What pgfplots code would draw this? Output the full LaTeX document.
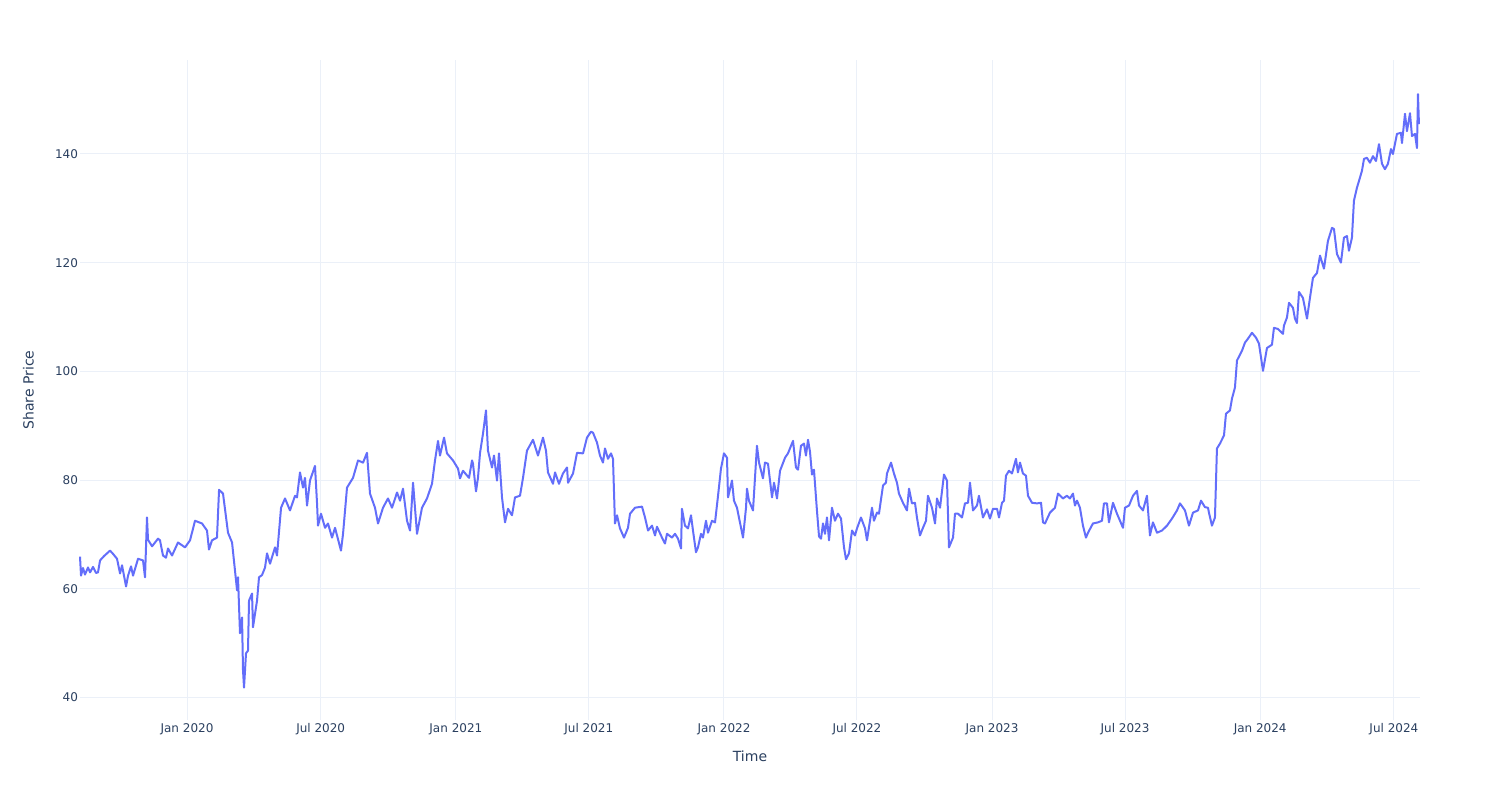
\documentclass[border=0pt]{standalone}
\usepackage{fontspec}
\setmainfont{DejaVu Sans}
\usepackage{pgfplots}
\pgfplotsset{compat=1.18}
\definecolor{plotline}{HTML}{636EFA}
\definecolor{gridc}{HTML}{EBF0F8}
\definecolor{textc}{HTML}{2A3F5F}
\begin{document}
\begin{tikzpicture}
\path[use as bounding box] (0,0) rectangle (1125bp,600bp);
\begin{axis}[
  at={(60bp,60bp)}, anchor=south west,
  scale only axis, width=1005bp, height=495bp,
  xmin=-145.7, xmax=1678.5, ymin=35.83, ymax=157.3,
  axis line style={draw=none},
  major tick length=0pt,
  grid=major,
  major grid style={gridc, line width=0.75bp},
  xtick={0,182,366,547,731,912,1096,1277,1461,1643},
  xticklabels={Jan 2020,Jul 2020,Jan 2021,Jul 2021,Jan 2022,Jul 2022,Jan 2023,Jul 2023,Jan 2024,Jul 2024},
  ytick={40,60,80,100,120,140},
  /pgf/number format/assume math mode=true,
  tick label style={font=\fontsize{9bp}{10bp}\selectfont, text=textc},
  xticklabel style={anchor=north, inner sep=0pt, yshift=-2.5bp},
  yticklabel style={anchor=east, inner sep=0pt, xshift=-1.3bp},
  xlabel={Time}, ylabel={Share Price},
  label style={font=\fontsize{10.5bp}{12bp}\selectfont, text=textc},
  xlabel style={at={(axis description cs:0.5,-0.047)}, anchor=north, inner sep=0pt},
  ylabel style={at={(axis description cs:-0.0343,0.5)}, rotate=0, anchor=south, inner sep=0pt},
  clip=false,
]
\addplot[plotline, line width=1.5bp, line join=round] coordinates {
(-145.7,65.9) (-144.3,62.4) (-141.6,63.8) (-138.9,62.6) (-134.8,63.9) (-132.0,63.0) (-128.0,64.0) (-123.9,62.9) (-121.2,63.0) (-118.4,65.2)
(-113.0,66.0) (-104.8,67.0) (-100.7,66.4) (-95.3,65.5) (-91.2,62.8) (-88.5,64.3) (-83.0,60.4) (-80.3,62.4) (-76.2,64.1) (-73.5,62.4)
(-66.7,65.5) (-59.9,65.2) (-57.2,62.1) (-54.5,73.1) (-53.1,69.0) (-47.6,67.8) (-39.5,69.2) (-36.8,68.9) (-32.7,66.1) (-28.6,65.7)
(-25.9,67.4) (-20.4,66.1) (-12.3,68.5) (-2.7,67.6) (4.1,68.9) (10.9,72.5) (20.4,72.0) (27.2,70.7) (29.9,67.2) (34.0,68.9)
(40.8,69.4) (43.6,78.2) (49.0,77.5) (55.8,70.3) (61.3,68.5) (68.1,59.7) (69.4,62.1) (72.1,51.8) (74.9,54.7) (76.2,45.0)
(77.6,41.8) (80.3,48.1) (83.0,48.6) (84.4,57.8) (88.5,59.1) (89.8,52.9) (95.3,57.8) (98.0,62.1) (102.1,62.5) (106.2,63.9)
(108.9,66.5) (113.0,64.6) (119.8,67.6) (122.5,66.1) (128.0,74.9) (133.4,76.6) (140.2,74.4) (147.0,77.1) (149.7,76.8) (153.8,81.4)
(157.9,78.6) (160.6,80.4) (163.4,75.3) (167.4,79.9) (174.2,82.6) (177.0,75.7) (178.3,71.6) (182.4,73.8) (187.9,71.2) (191.9,72.0)
(197.4,69.4) (201.5,71.2) (209.6,67.0) (212.4,70.1) (217.8,78.6) (226.0,80.4) (232.8,83.6) (239.6,83.2) (245.0,85.0) (249.1,77.5)
(255.9,74.9) (260.0,72.0) (266.8,74.9) (273.6,76.6) (279.1,74.9) (285.9,77.7) (290.0,76.2) (294.0,78.4) (299.5,72.5) (303.6,70.7)
(307.7,79.5) (313.1,70.1) (319.9,74.9) (326.7,76.6) (333.5,79.3) (337.6,83.6) (341.7,87.2) (344.4,84.5) (349.9,87.8) (353.9,84.9)
(362.1,83.6) (368.9,82.1) (371.6,80.3) (375.7,81.7) (383.9,80.4) (388.0,83.6) (389.3,83.0) (393.4,77.9) (396.1,80.4) (398.9,85.0)
(402.9,88.5) (407.0,92.8) (409.7,85.4) (415.2,82.3) (417.9,84.5) (422.0,79.9) (424.7,84.9) (428.8,76.8) (432.9,72.2) (437.0,74.7)
(442.4,73.5) (446.5,76.8) (453.3,77.1) (457.4,80.4) (462.8,85.4) (471.0,87.4) (477.8,84.5) (484.6,87.8) (488.7,85.4) (491.4,81.4)
(498.2,79.3) (501.0,81.4) (506.4,79.3) (511.8,81.2) (517.3,82.3) (518.7,79.5) (525.5,81.2) (530.9,85.0) (539.1,84.9) (544.5,87.8)
(550.0,88.9) (552.7,88.7) (558.1,86.9) (562.2,84.5) (566.3,83.2) (569.0,85.8) (573.1,83.9) (577.2,84.9) (579.9,83.9) (582.6,72.0)
(585.4,73.5) (589.4,71.1) (594.9,69.4) (600.3,71.2) (603.1,73.8) (609.9,74.9) (619.4,75.1) (623.5,73.1) (627.6,70.7) (633.0,71.6)
(637.1,69.8) (639.8,71.4) (646.6,69.4) (650.7,68.3) (653.4,70.1) (660.2,69.4) (664.3,70.1) (668.4,69.2) (672.5,67.4) (673.8,74.7)
(677.9,71.6) (682.0,71.1) (686.1,73.5) (688.8,70.7) (692.9,66.7) (695.6,67.6) (699.7,70.1) (702.4,69.4) (706.5,72.5) (709.2,70.3)
(714.7,72.5) (718.8,72.2) (722.9,77.1) (726.9,82.1) (731.0,84.9) (735.1,84.1) (736.5,76.8) (741.9,79.9) (744.6,76.2) (748.7,74.9)
(756.9,69.4) (761.0,74.9) (762.3,78.4) (765.0,76.2) (770.5,74.4) (773.2,80.4) (775.9,86.3) (778.7,83.2) (784.1,80.3) (786.8,83.2)
(790.9,83.0) (796.4,76.8) (799.1,79.5) (803.2,76.6) (807.3,81.7) (814.1,84.1) (818.1,84.9) (825.0,87.2) (829.0,82.3) (831.8,81.9)
(835.8,86.3) (839.9,86.7) (842.6,84.5) (845.4,87.4) (848.1,85.2) (850.8,81.0) (853.5,81.9) (857.6,74.3) (860.4,69.6) (863.1,69.2)
(865.8,72.0) (868.5,70.1) (871.2,73.1) (874.0,68.9) (878.0,74.9) (882.1,72.5) (886.2,73.8) (890.3,72.9) (894.4,67.6) (897.1,65.4)
(901.2,66.5) (905.3,70.7) (909.3,69.8) (912.1,71.1) (917.5,73.1) (923.0,71.1) (925.7,68.9) (932.5,74.9) (935.2,72.5) (939.3,74.0)
(942.0,73.8) (947.5,79.0) (951.5,79.5) (952.9,81.2) (958.4,83.2) (962.4,81.2) (966.5,79.5) (969.2,77.5) (974.7,75.8) (980.1,74.4)
(982.9,78.4) (986.9,75.7) (991.0,75.8) (993.7,73.1) (997.8,69.8) (1001.9,71.2) (1006.0,72.5) (1008.7,77.1) (1014.2,74.9) (1018.3,72.0)
(1021.0,76.6) (1025.1,74.9) (1030.5,81.0) (1034.6,79.9) (1037.3,67.6) (1042.8,69.4) (1045.5,73.8) (1049.6,73.8) (1055.0,73.1) (1059.1,75.7)
(1063.2,75.8) (1065.9,79.5) (1070.0,74.4) (1075.4,75.3) (1078.1,77.1) (1083.6,73.1) (1089.0,74.6) (1093.1,72.9) (1097.2,74.7) (1102.7,74.7)
(1105.4,73.1) (1109.5,75.8) (1112.2,76.2) (1114.9,80.8) (1119.0,81.7) (1123.1,81.2) (1128.5,83.9) (1131.2,81.4) (1134.0,83.2) (1138.0,81.2)
(1142.1,80.8) (1144.9,77.1) (1150.3,75.8) (1157.1,75.7) (1162.6,75.8) (1165.3,72.2) (1168.0,72.0) (1174.8,74.0) (1181.6,74.9) (1185.7,77.5)
(1192.5,76.6) (1197.9,77.1) (1202.0,76.6) (1206.1,77.5) (1208.8,75.3) (1211.6,76.2) (1215.6,74.9) (1219.7,71.6) (1223.8,69.4) (1226.6,70.3)
(1233.3,72.0) (1240.1,72.2) (1245.6,72.5) (1248.3,75.7) (1252.4,75.7) (1255.1,72.2) (1260.6,75.8) (1266.0,73.8) (1274.2,71.2) (1276.9,74.9)
(1282.4,75.3) (1287.8,77.1) (1293.2,78.0) (1296.0,75.3) (1301.4,74.4) (1306.8,77.1) (1310.9,69.8) (1315.0,72.2) (1320.5,70.3) (1327.3,70.7)
(1334.1,71.6) (1340.9,72.9) (1347.7,74.4) (1351.8,75.7) (1358.6,74.4) (1364.0,71.6) (1369.5,74.0) (1376.3,74.4) (1380.4,76.2) (1385.8,75.0)
(1389.9,74.9) (1391.2,74.0) (1395.3,71.6) (1399.4,73.1) (1402.1,85.8) (1406.2,86.7) (1411.7,88.2) (1414.4,92.2) (1419.8,92.8) (1422.6,95.0)
(1426.6,97.0) (1429.4,102.0) (1436.2,103.8) (1440.3,105.3) (1444.3,106.0) (1449.8,107.1) (1455.2,106.2) (1459.3,105.1) (1464.8,100.1) (1470.2,104.3)
(1477.0,104.9) (1479.7,108.0) (1485.2,107.8) (1492.0,106.9) (1493.3,108.4) (1497.4,109.9) (1500.2,112.6) (1505.6,111.7) (1508.3,109.7) (1511.0,108.9)
(1513.8,114.6) (1519.2,113.5) (1524.7,109.7) (1528.7,113.5) (1532.8,117.2) (1538.3,118.1) (1542.4,121.3) (1547.8,118.9) (1553.2,124.0) (1558.7,126.4)
(1561.4,126.2) (1565.5,121.6) (1570.9,120.0) (1575.0,124.6) (1579.1,124.9) (1581.8,122.2) (1585.9,124.6) (1588.6,131.4) (1592.7,133.8) (1595.4,135.0)
(1599.5,136.9) (1602.3,139.1) (1606.3,139.3) (1610.4,138.4) (1614.5,139.6) (1618.6,138.7) (1622.7,141.8) (1626.8,138.2) (1630.8,137.2) (1634.9,138.2)
(1639.0,140.9) (1641.7,140.0) (1647.2,143.7) (1652.6,143.9) (1654.0,142.0) (1658.1,147.4) (1660.8,144.2) (1664.9,147.5) (1667.6,143.3) (1671.7,143.7)
(1674.4,141.1) (1675.8,151.0) (1677.1,145.5)
};
\end{axis}
\end{tikzpicture}
\end{document}
